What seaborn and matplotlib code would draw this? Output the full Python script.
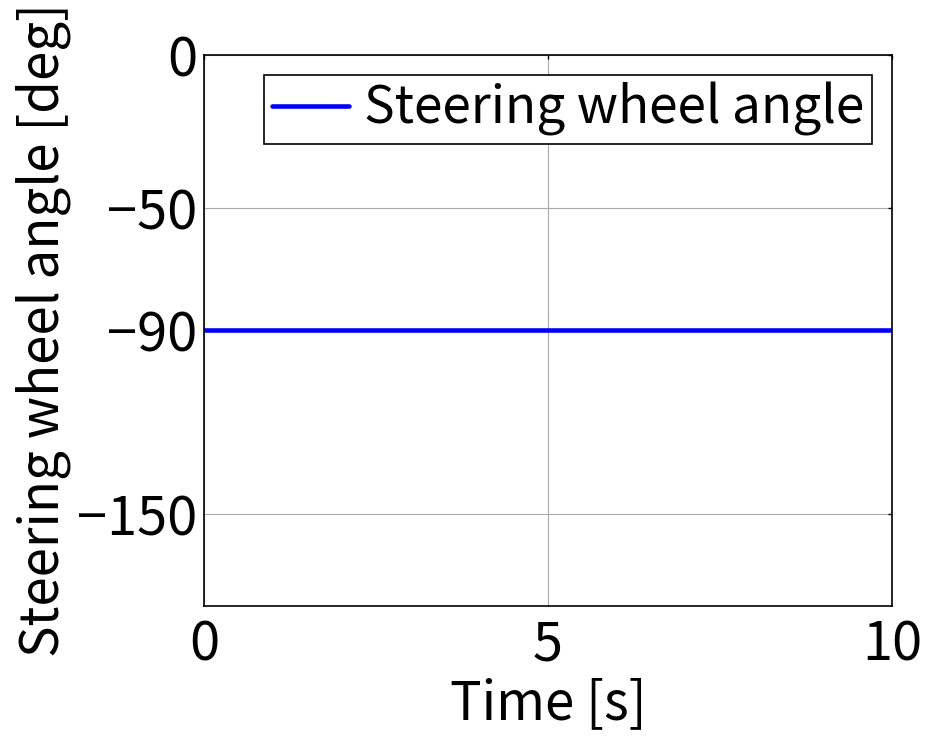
import numpy as np
import pandas as pd
import seaborn as sns
import matplotlib
matplotlib.use('Agg')
import matplotlib.pyplot as plt

sns.set_style('white')
plt.rcParams['font.family'] = ['Noto Sans CJK JP', 'DejaVu Sans']
plt.rcParams['text.color'] = 'black'
plt.rcParams['axes.labelcolor'] = 'black'

# data
time_s = [0, 10]
steering_deg = [-90, -90]
xticks = [0, 5, 10]
yticks = [0, -50, -90, -150]
yticklabels = ['0', '\u221250', '\u221290', '\u2212150']

df = pd.DataFrame({'Time': time_s, 'Angle': steering_deg})

fig = plt.figure(figsize=(9.25, 7.38), dpi=100)
ax = fig.add_axes([0.2205, 0.1789, 0.7438, 0.7466])
sns.lineplot(data=df, x='Time', y='Angle', color='#0000ff', linewidth=3.3,
             label='Steering wheel angle', ax=ax)

ax.set_xlim(0, 10)
ax.set_ylim(-180, 0)
ax.set_xticks(xticks)
ax.set_yticks(yticks)
ax.set_yticklabels(yticklabels)
ax.grid(True, color='#a8a8a8', linewidth=0.8)
ax.tick_params(direction='in', length=3, width=1, labelsize=39, top=True, right=True,
               colors='black', labelcolor='black')
ax.tick_params(axis='y', pad=5)
ax.tick_params(axis='x', pad=8)
for s in ax.spines.values():
    s.set_color('black')
    s.set_linewidth(1.2)
ax.set_xlabel('Time [s]', fontsize=38, labelpad=3, color='black')
ax.set_ylabel('Steering wheel angle [deg]', fontsize=38, labelpad=4, color='black')

leg = ax.legend(loc='upper right', fontsize=37, frameon=True, fancybox=False,
                edgecolor='black', framealpha=1, handlelength=1.5, handletextpad=0.3,
                borderpad=0.15, borderaxespad=0.38)
leg.get_frame().set_linewidth(1.2)
for t in leg.get_texts():
    t.set_color('black')

fig.savefig('out.png', dpi=100)
